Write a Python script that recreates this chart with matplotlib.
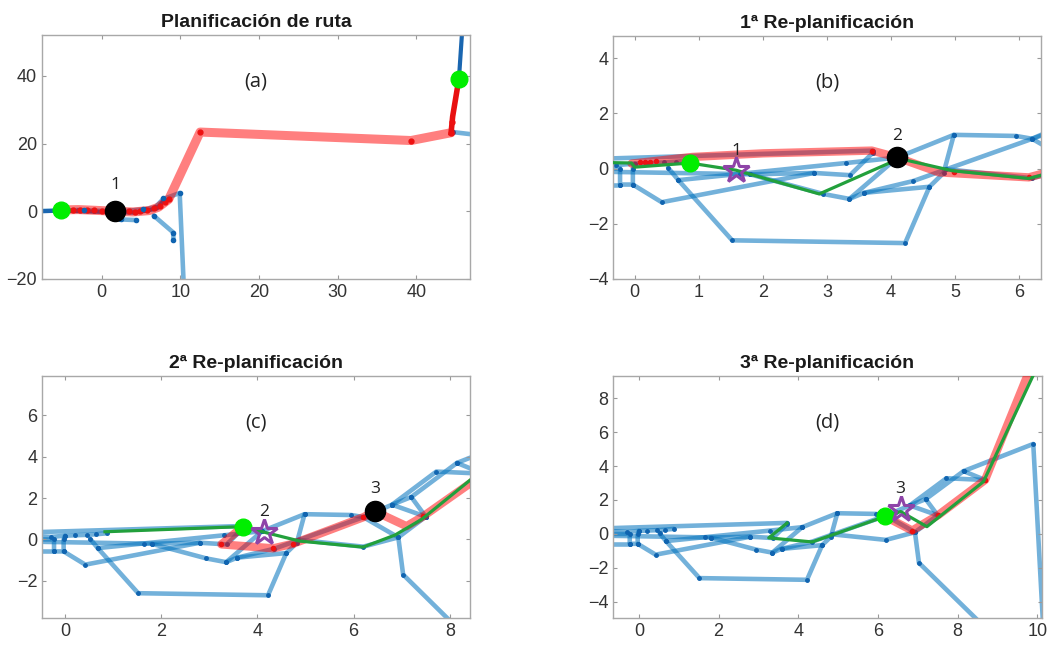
import matplotlib
matplotlib.use("Agg")
import matplotlib.pyplot as plt

# ---- panel (a): full route over the large map ----
a_tree = [
    [(-8.0, 0.1), (-5.2, 0.2), (-3.0, 0.4), (-1.0, 0.2), (1.7, 0.0), (3.5, 0.2), (5.5, 0.6), (6.8, 1.2), (7.8, 3.6), (9.9, 5.4), (10.4, -21.0)],
    [(2.3, -2.4), (4.3, -2.6)],
    [(6.6, -1.3), (9.1, -6.3), (9.1, -8.6)],
    [(44.6, 23.4), (47.5, 22.6)],
]
a_dark = [(-8.0, 0.0), (-5.2, 0.2), (1.7, -0.3), (4.3, -0.4), (7.0, 0.8), (8.0, 3.5)]
a_top = [(45.4, 39.2), (45.8, 53.0)]
a_route = [(-5.2, 0.4), (-3.0, 0.5), (-1.0, 0.3), (1.7, 0.0), (4.0, -0.2), (6.0, 0.2), (7.2, 1.2),
           (8.5, 3.5), (12.5, 23.4), (39.3, 20.9), (44.4, 23.2)]
a_route_end = [(44.4, 23.2), (44.6, 28.0), (45.4, 39.2)]
a_red_dots = [(-3.6, 0.4), (-2.75, 0.4), (-1.9, 0.4), (-1.0, 0.3), (0.0, 0.1), (3.4, 0.0), (4.2, -0.2),
              (4.9, 0.1), (5.7, 0.3), (6.7, 0.9), (7.4, 1.6), (8.0, 2.6), (8.6, 3.6), (12.5, 23.4),
              (39.3, 20.9), (44.4, 23.2), (44.5, 26.5)]
a_blue_dots = [(-4.5, 0.2), (-2.2, 0.3), (2.5, -2.4), (4.3, -2.7), (5.2, 0.8), (6.6, -1.3), (7.8, 3.8),
               (9.1, -6.3), (9.1, -8.6), (9.9, 5.4)]
a_start = (-5.2, 0.3)
a_goal = (45.4, 39.2)
a_robot = (1.7, 0.0)

# ---- panels (b)-(d): shared tree around the replanning zone ----
tree = [
    [(-0.9, 0.33), (3.72, 0.65)],
    [(-0.9, 0.2), (-0.3, 0.12), (0.0, 0.18), (0.2, 0.2), (0.45, 0.22), (0.65, 0.25), (0.88, 0.3)],
    [(-0.9, 0.0), (-0.23, 0.0), (-0.23, -0.58), (-0.03, -0.58), (-0.03, 0.0), (0.0, 0.18)],
    [(-0.9, -0.58), (-0.23, -0.58)],
    [(-0.9, -0.1), (1.65, -0.2), (1.8, -0.21), (2.8, -0.16), (3.36, -0.24), (3.72, 0.58)],
    [(-0.03, -0.58), (0.42, -1.22), (2.8, -0.16)],
    [(0.52, 0.03), (0.68, -0.42), (1.52, -2.6), (4.22, -2.7), (4.6, -0.66), (4.82, -0.16), (4.98, 1.22),
     (5.95, 1.18), (6.2, 1.08), (6.93, 0.1), (7.03, -1.7), (8.6, -5.3)],
    [(0.68, -0.42), (3.3, 0.2), (4.1, 0.4)],
    [(1.8, -0.21), (2.94, -0.92), (3.35, -1.1), (3.58, -0.88), (4.6, -0.66)],
    [(3.35, -1.1), (4.1, 0.4)],
    [(3.58, -0.88), (4.35, -0.45), (6.45, 1.28)],
    [(4.1, 0.4), (4.98, 1.22)],
    [(4.85, -0.02), (6.2, -0.35), (6.93, 0.1), (7.5, 1.1)],
    [(6.2, 1.08), (6.8, 1.68), (7.72, 3.28), (8.69, 3.18)],
    [(6.8, 1.68), (7.2, 2.05), (8.15, 3.7), (9.9, 5.3), (10.15, -5.5)],
    [(8.15, 3.7), (8.69, 3.18)],
    [(7.2, 2.05), (7.5, 1.1)],
    [(6.8, 1.68), (7.5, 1.1)],
]

b_route = [(-0.05, 0.18), (0.9, 0.42), (2.0, 0.55), (3.7, 0.65), (4.1, 0.4), (4.75, -0.14), (6.15, -0.32), (6.5, -0.1)]
b_red_dots = [(0.08, 0.22), (0.16, 0.24), (0.24, 0.25), (0.33, 0.26), (3.7, 0.65), (4.98, -0.12), (6.15, -0.32)]
b_green = [(-0.5, 0.22), (-0.05, 0.2), (0.0, 0.05), (0.86, 0.2), (1.58, -0.06), (2.88, -0.92), (4.13, 0.36),
           (4.96, -0.08), (6.15, -0.36), (6.5, -0.15)]
b_start, b_robot, b_star = (0.86, 0.2), (4.1, 0.4), (1.58, -0.06)

c_route = [(3.7, 0.62), (3.25, -0.24), (4.33, -0.43), (4.74, -0.21), (6.2, 1.07), (6.44, 1.36),
           (7.1, 0.64), (7.45, 1.12), (8.6, 3.0)]
c_red_dots = [(3.25, -0.24), (4.33, -0.43), (4.74, -0.21), (6.2, 1.07), (7.45, 1.12)]
c_green = [(0.83, 0.37), (3.7, 0.62), (4.19, 0.32), (4.88, -0.08), (6.2, -0.37), (6.86, 0.21),
           (7.41, 0.96), (8.6, 3.2)]
c_start, c_robot, c_star = (3.7, 0.62), (6.44, 1.36), (4.14, 0.37)

d_route = [(6.18, 1.03), (6.86, 0.2), (7.52, 1.12), (8.69, 3.18), (9.8, 9.6)]
d_red_dots = [(6.86, 0.2), (7.52, 1.12), (8.69, 3.18)]
d_green = [(3.72, 0.64), (3.26, -0.23), (4.35, -0.47), (6.18, 1.03), (6.57, 1.32), (7.23, 0.43),
           (8.65, 3.08), (9.95, 9.6)]
d_start, d_star = (6.18, 1.03), (6.57, 1.46)

BLUE = "#0072BD"
GREEN = "#22a03c"
LIME = "#00ee00"
PURPLE = "#8e44a8"

plt.rcParams["font.family"] = ["Liberation Sans", "DejaVu Sans"]

fig = plt.figure(figsize=(10.58, 6.5), dpi=100)
ax_a = fig.add_axes([0.0397, 0.5708, 0.4045, 0.375])
ax_b = fig.add_axes([0.5794, 0.5708, 0.4045, 0.3738])
ax_c = fig.add_axes([0.0397, 0.0492, 0.4045, 0.3723])
ax_d = fig.add_axes([0.5794, 0.0492, 0.4055, 0.3723])


def xy(pts):
    return [p[0] for p in pts], [p[1] for p in pts]


def style(ax, title, letter, xlim, ylim, xticks, yticks):
    ax.set_xlim(*xlim)
    ax.set_ylim(*ylim)
    ax.set_xticks(xticks)
    ax.set_yticks(yticks)
    ax.tick_params(direction="in", top=True, right=True, length=3, width=0.8,
                   color="#999999", labelcolor="#333333", labelsize=13)
    for s in ax.spines.values():
        s.set_color("#a8a8a8")
        s.set_linewidth(1.0)
    ax.set_title(title, fontsize=14, fontweight="bold", color="#1a1a1a", pad=6)
    ax.text(0.5, 0.81, letter, transform=ax.transAxes, ha="center", va="center",
            fontsize=14.5, family="Open Sans", color="#222222")


def draw_tree(ax, branches):
    for br in branches:
        x, y = xy(br)
        ax.plot(x, y, color=BLUE, alpha=0.55, lw=3.3, solid_capstyle="round", zorder=1)
        ax.plot(x, y, ".", color="#1064b0", ms=5, zorder=2)


def numbered(ax, pt, txt, dy):
    ax.text(pt[0], pt[1] + dy, txt, ha="center", va="bottom", fontsize=12.5,
            family="Open Sans", color="#222222", zorder=6)


# (a)
draw_tree(ax_a, a_tree)
x, y = xy(a_dark)
ax_a.plot(x, y, color="#1a66b0", lw=3, zorder=2)
x, y = xy(a_top)
ax_a.plot(x, y, color="#1a66b0", lw=3, zorder=2)
x, y = xy(a_route)
ax_a.plot(x, y, color="red", alpha=0.5, lw=6.5, solid_capstyle="round", zorder=3)
x, y = xy(a_route_end)
ax_a.plot(x, y, color="#e81010", lw=4, zorder=3)
x, y = xy(a_red_dots)
ax_a.plot(x, y, ".", color="#ee1111", ms=7, zorder=4)
x, y = xy(a_blue_dots)
ax_a.plot(x, y, ".", color="#1064b0", ms=6, zorder=4)
ax_a.plot(*a_start, "o", color=LIME, ms=12, zorder=5)
ax_a.plot(*a_goal, "o", color=LIME, ms=12, zorder=5)
ax_a.plot(*a_robot, "o", color="black", ms=14.5, zorder=5)
numbered(ax_a, a_robot, "1", 5.5)
style(ax_a, "Planificación de ruta", "(a)", (-7.6, 46.8), (-20, 52),
      [0, 10, 20, 30, 40], [-20, 0, 20, 40])


def replan(ax, route, red_dots, green, start, robot, star, num_star, num_robot, dy):
    draw_tree(ax, tree)
    x, y = xy(route)
    ax.plot(x, y, color="red", alpha=0.5, lw=6, solid_capstyle="round", zorder=3)
    x, y = xy(red_dots)
    ax.plot(x, y, ".", color="#ee1111", ms=6, zorder=3)
    x, y = xy(green)
    ax.plot(x, y, color=GREEN, lw=2.3, zorder=4)
    ax.plot(*start, "o", color=LIME, ms=12, zorder=5)
    if robot is not None:
        ax.plot(*robot, "o", color="black", ms=14.5, zorder=5)
        numbered(ax, robot, num_robot, dy * 1.25)
    ax.plot(*star, "*", ms=19, mfc="none", mec=PURPLE, mew=2.2, zorder=6)
    numbered(ax, star, num_star, dy)


replan(ax_b, b_route, b_red_dots, b_green, b_start, b_robot, b_star, "1", "2", 0.4)
style(ax_b, "1ª Re-planificación", "(b)", (-0.34, 6.34), (-4, 4.8),
      [0, 1, 2, 3, 4, 5, 6], [-4, -2, 0, 2, 4])

replan(ax_c, c_route, c_red_dots, c_green, c_start, c_robot, c_star, "2", "3", 0.55)
style(ax_c, "2ª Re-planificación", "(c)", (-0.48, 8.42), (-3.8, 7.9),
      [0, 2, 4, 6, 8], [-2, 0, 2, 4, 6])

replan(ax_d, d_route, d_red_dots, d_green, d_start, None, d_star, "3", "", 0.7)
style(ax_d, "3ª Re-planificación", "(d)", (-0.65, 10.12), (-4.95, 9.3),
      [0, 2, 4, 6, 8, 10], [-4, -2, 0, 2, 4, 6, 8])

fig.savefig("out.png", dpi=100)
